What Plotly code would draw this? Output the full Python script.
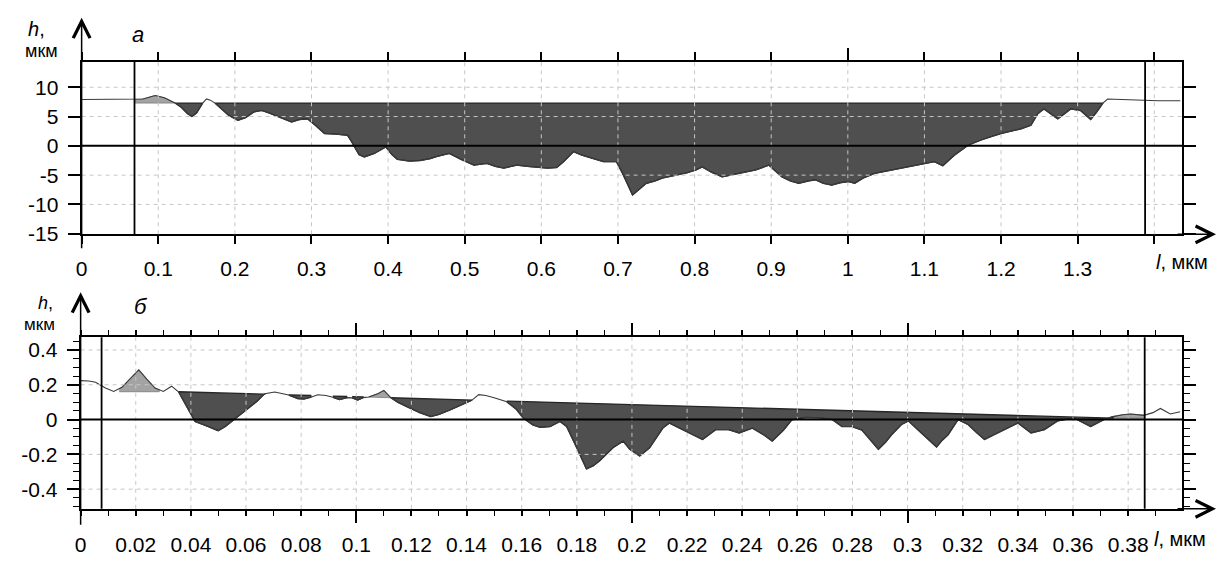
import numpy as np
import plotly.graph_objects as go

W, H = 1218, 562
FONT = "Liberation Sans, Arial, sans-serif"

# ---------------- chart "а" data (l, мкм ; h, мкм) ----------------
top_x = [0.000, 0.069, 0.080, 0.096, 0.108, 0.122, 0.130, 0.138, 0.144, 0.150, 0.158,
         0.163, 0.168, 0.174, 0.182, 0.192, 0.204, 0.214, 0.225, 0.235, 0.245, 0.258,
         0.274, 0.285, 0.295, 0.305, 0.317, 0.332, 0.347, 0.352, 0.356, 0.362, 0.369,
         0.382, 0.397, 0.405, 0.412, 0.428, 0.442, 0.455, 0.464, 0.480, 0.495, 0.512,
         0.529, 0.540, 0.551, 0.568, 0.582, 0.594, 0.608, 0.620, 0.629, 0.642, 0.653,
         0.668, 0.681, 0.698, 0.706, 0.719, 0.728, 0.737, 0.748, 0.758, 0.776, 0.790,
         0.802, 0.810, 0.822, 0.836, 0.858, 0.880, 0.897, 0.905, 0.914, 0.925, 0.936,
         0.948, 0.958, 0.968, 0.979, 0.990, 1.001, 1.009, 1.020, 1.035, 1.050, 1.065,
         1.079, 1.095, 1.113, 1.124, 1.139, 1.157, 1.174, 1.188, 1.200, 1.213, 1.226,
         1.239, 1.248, 1.256, 1.265, 1.274, 1.283, 1.291, 1.304, 1.317, 1.325, 1.333,
         1.339, 1.350, 1.386, 1.395, 1.405, 1.434]
top_y = [7.9, 7.9, 8.0, 8.6, 8.2, 7.3, 6.6, 5.5, 5.0, 5.6, 7.3,
         8.0, 7.8, 7.3, 6.3, 5.2, 4.35, 4.8, 5.8, 6.05, 5.6, 4.9,
         4.07, 4.5, 4.6, 3.5, 2.1, 2.0, 1.8, 0.8, -0.2, -1.5, -1.9,
         -1.3, -0.2, -1.5, -2.3, -2.6, -2.5, -2.2, -1.8, -1.3, -2.3, -3.3,
         -3.0, -3.5, -3.8, -3.3, -3.5, -3.6, -3.8, -3.7, -2.7, -1.0, -1.6,
         -2.2, -2.7, -2.7, -4.7, -8.4, -7.4, -6.4, -6.0, -5.5, -5.0, -4.6,
         -4.1, -3.6, -4.5, -5.3, -4.7, -4.1, -3.3, -4.3, -5.3, -6.0, -6.4,
         -6.0, -5.8, -6.4, -6.7, -6.3, -6.1, -6.4, -5.5, -4.7, -4.3, -4.0,
         -3.6, -3.2, -2.7, -3.4, -1.6, 0.1, 1.0, 1.6, 2.1, 2.5, 2.9,
         3.5, 5.5, 6.3, 5.4, 4.6, 5.5, 6.3, 6.0, 4.5, 5.8, 7.3,
         8.0, 7.95, 7.9, 7.75, 7.7, 7.7]
top_ref_x = [0.122, 1.333]
top_ref_y = [7.3, 7.3]
top_dark_segments = [(0.122, 0.158), (0.174, 1.333)]
top_light_segments = [(0.069, 0.122)]
top_cursor_x = [0.069, 1.388]
top_xticks = [0, 0.1, 0.2, 0.3, 0.4, 0.5, 0.6, 0.7, 0.8, 0.9, 1.0, 1.1, 1.2, 1.3, 1.4]
top_xticklabels = ["0", "0.1", "0.2", "0.3", "0.4", "0.5", "0.6", "0.7", "0.8", "0.9",
                   "1", "1.1", "1.2", "1.3", ""]
top_xlong_top = [1.0]
top_yticks = [-15, -10, -5, 0, 5, 10]
top_yticklabels = ["-15", "-10", "-5", "0", "5", "10"]
top_grid_x = [0.1, 0.2, 0.3, 0.4, 0.5, 0.6, 0.7, 0.8, 0.9, 1.0, 1.1, 1.2, 1.3, 1.4]
top_grid_y = [-10, -5, 5, 10]
top_xrange = [0, 1.4364]
top_yrange = [-15.1, 14.35]

# ---------------- chart "б" data ----------------
bot_x = [0.0000, 0.0030, 0.0054, 0.0075, 0.0090, 0.0120, 0.0150, 0.0180, 0.0211, 0.0240,
         0.0270, 0.0300, 0.0330, 0.0355, 0.0397, 0.0415, 0.0463, 0.0499, 0.0525, 0.0548,
         0.0580, 0.0608, 0.0640, 0.0668, 0.0704, 0.0755, 0.0788, 0.0810, 0.0835, 0.0860,
         0.0890, 0.0915, 0.0939, 0.0965, 0.0985, 0.1005, 0.1025, 0.1045, 0.1080, 0.1100,
         0.1125, 0.1150, 0.1185, 0.1230, 0.1270, 0.1300, 0.1340, 0.1380, 0.1420, 0.1444,
         0.1470, 0.1500, 0.1546, 0.1580, 0.1606, 0.1640, 0.1667, 0.1703, 0.1739, 0.1763,
         0.1800, 0.1835, 0.1860, 0.1883, 0.1931, 0.1968, 0.1992, 0.2028, 0.2064, 0.2112,
         0.2136, 0.2170, 0.2208, 0.2256, 0.2304, 0.2350, 0.2389, 0.2437, 0.2480, 0.2509,
         0.2550, 0.2580, 0.2630, 0.2680, 0.2726, 0.2762, 0.2798, 0.2834, 0.2865, 0.2894,
         0.2920, 0.2942, 0.2978, 0.3003, 0.3050, 0.3080, 0.3105, 0.3125, 0.3147, 0.3183,
         0.3219, 0.3250, 0.3279, 0.3310, 0.3339, 0.3400, 0.3448, 0.3496, 0.3544, 0.3580,
         0.3604, 0.3628, 0.3664, 0.3712, 0.3745, 0.3780, 0.3809, 0.3857, 0.3890, 0.3917,
         0.3953, 0.3989]
bot_y = [0.224, 0.222, 0.215, 0.195, 0.181, 0.162, 0.186, 0.235, 0.286, 0.232,
         0.181, 0.162, 0.192, 0.160, 0.045, -0.011, -0.040, -0.064, -0.040, -0.011,
         0.025, 0.064, 0.105, 0.149, 0.158, 0.141, 0.120, 0.118, 0.128, 0.143,
         0.138, 0.128, 0.115, 0.126, 0.125, 0.112, 0.126, 0.130, 0.150, 0.168,
         0.126, 0.100, 0.073, 0.040, 0.017, 0.030, 0.055, 0.085, 0.112, 0.143,
         0.138, 0.125, 0.102, 0.060, 0.008, -0.030, -0.045, -0.040, -0.011, -0.040,
         -0.162, -0.284, -0.265, -0.237, -0.162, -0.124, -0.171, -0.209, -0.162, -0.049,
         -0.020, -0.045, -0.077, -0.115, -0.058, -0.058, -0.077, -0.049, -0.090, -0.124,
         -0.060, -0.002, 0.012, 0.010, 0.000, -0.040, -0.040, -0.060, -0.115, -0.171,
         -0.130, -0.087, -0.028, -0.008, -0.077, -0.120, -0.158, -0.120, -0.087, 0.000,
         -0.028, -0.075, -0.115, -0.090, -0.068, -0.020, -0.077, -0.058, -0.008, 0.005,
         0.010, -0.011, -0.040, 0.000, 0.017, 0.028, 0.032, 0.024, 0.040, 0.064,
         0.032, 0.045]
bot_ref_x = [0.0355, 0.3745]
bot_ref_y = [0.160, 0.008]
bot_dark_segments = [(0.0355, 0.0668), (0.0755, 0.0835), (0.0915, 0.0965),
                     (0.0985, 0.1025), (0.1125, 0.1420), (0.1546, 0.3745)]
bot_light_segments = [(0.0140, 0.0285), (0.1045, 0.1125), (0.3745, 0.3860)]
bot_cursor_x = [0.0076, 0.386]
bot_xticks = [0, 0.02, 0.04, 0.06, 0.08, 0.1, 0.12, 0.14, 0.16, 0.18, 0.2, 0.22, 0.24,
              0.26, 0.28, 0.3, 0.32, 0.34, 0.36, 0.38]
bot_xticklabels = ["0", "0.02", "0.04", "0.06", "0.08", "0.1", "0.12", "0.14", "0.16",
                   "0.18", "0.2", "0.22", "0.24", "0.26", "0.28", "0.3", "0.32", "0.34",
                   "0.36", "0.38"]
bot_xminor = [round(0.01 * i, 2) for i in range(40)]
bot_xmajor_long = [0.1, 0.2, 0.3]
bot_yticks = [-0.4, -0.2, 0, 0.2, 0.4]
bot_yticklabels = ["-0.4", "-0.2", "0", "0.2", "0.4"]
bot_yminor = [round(-0.5 + 0.05 * i, 2) for i in range(20)]
bot_grid_x = [0.02, 0.04, 0.06, 0.08, 0.1, 0.12, 0.14, 0.16, 0.18, 0.2, 0.22, 0.24,
              0.26, 0.28, 0.3, 0.32, 0.34, 0.36, 0.38]
bot_grid_y = [-0.4, -0.2, 0.2, 0.4]
bot_xrange = [0, 0.3996]
bot_yrange = [-0.513, 0.473]

# ---------------- layout geometry (pixels) ----------------
TOP_BOX = (76, 1182, 63, 239)   # left, right, top, bottom
BOT_BOX = (75, 1182, 344, 519)

DARK = "#4f4f4f"
EDGE = "#262626"
LIGHT = "#a3a3a3"
LINE = "#3a3a3a"
GRID = "#c6c6c6"


def px_x(p):
    return p / W


def px_y(p):
    return 1 - p / H


def seg_polygon(xs, ys, rx, ry, a, b):
    xs = np.asarray(xs)
    ys = np.asarray(ys)
    m = (xs > a) & (xs < b)
    px = [a] + list(xs[m]) + [b]
    ya = float(np.interp(a, xs, ys))
    yb = float(np.interp(b, xs, ys))
    py = [ya] + list(ys[m]) + [yb]
    # close along the reference line
    px += [b, a]
    py += [float(np.interp(b, rx, ry)), float(np.interp(a, rx, ry))]
    return px, py


fig = go.Figure()


def add_chart(xs, ys, rx, ry, dark, light, xa, ya, xa_line):
    for a, b in light:
        sx, sy = seg_polygon(xs, ys, rx, ry, a, b)
        fig.add_trace(go.Scatter(x=sx, y=sy, mode="lines", fill="toself", fillcolor=LIGHT,
                                 line=dict(color="#7a7a7a", width=0.8), xaxis=xa, yaxis=ya,
                                 hoverinfo="skip"))
    for a, b in dark:
        sx, sy = seg_polygon(xs, ys, rx, ry, a, b)
        fig.add_trace(go.Scatter(x=sx, y=sy, mode="lines", fill="toself", fillcolor=DARK,
                                 line=dict(color=EDGE, width=1.3), xaxis=xa, yaxis=ya,
                                 hoverinfo="skip"))
    # profile line, carried by the overlay axis (same range) that draws the long ticks
    fig.add_trace(go.Scatter(x=xs, y=ys, mode="lines", line=dict(color=LINE, width=1.1),
                             xaxis=xa_line, yaxis=ya, hoverinfo="skip"))


add_chart(top_x, top_y, top_ref_x, top_ref_y, top_dark_segments, top_light_segments,
          "x", "y", "x4")
add_chart(bot_x, bot_y, bot_ref_x, bot_ref_y, bot_dark_segments, bot_light_segments,
          "x2", "y2", "x3")

tickfont = dict(family=FONT, size=21, color="black")
axis_common = dict(showline=True, linecolor="black", linewidth=2, mirror="ticks",
                   ticks="outside", tickcolor="black", tickwidth=1.5, showgrid=False,
                   zeroline=False, layer="above traces", tickfont=tickfont,
                   tickmode="array")

shapes = []


def grid_shapes(gx, gy, xr, yr):
    for v in gx:
        shapes.append(dict(type="line", xref=xr, yref=yr + " domain", x0=v, x1=v, y0=0, y1=1,
                           line=dict(color=GRID, width=1, dash="4px,4px"), layer="above"))
    for v in gy:
        shapes.append(dict(type="line", xref=xr + " domain", yref=yr, x0=0, x1=1, y0=v, y1=v,
                           line=dict(color=GRID, width=1, dash="4px,4px"), layer="above"))
    shapes.append(dict(type="line", xref=xr + " domain", yref=yr, x0=0, x1=1, y0=0, y1=0,
                       line=dict(color="black", width=2), layer="above"))


def cursor_shapes(cx, xr, yr):
    for v in cx:
        shapes.append(dict(type="line", xref=xr, yref=yr + " domain", x0=v, x1=v, y0=0, y1=1,
                           line=dict(color="black", width=1.8), layer="above"))


grid_shapes(top_grid_x, top_grid_y, "x", "y")
grid_shapes(bot_grid_x, bot_grid_y, "x2", "y2")
cursor_shapes(top_cursor_x, "x", "y")
cursor_shapes(bot_cursor_x, "x2", "y2")

annotations = []


def text(x, y, s, size=20, anchor="center"):
    annotations.append(dict(x=px_x(x), y=px_y(y), xref="paper", yref="paper", text=s,
                            showarrow=False, xanchor=anchor, yanchor="middle",
                            font=dict(family=FONT, size=size, color="black")))


def arrow(x_tip, y_tip, ax, ay):
    annotations.append(dict(x=px_x(x_tip), y=px_y(y_tip), xref="paper", yref="paper", text="",
                            showarrow=True, arrowhead=5, arrowsize=2.2, arrowwidth=1.5,
                            arrowcolor="black", ax=ax, ay=ay, standoff=0, startstandoff=0))


# chart а labels
text(31, 30, "<i>h</i>,", 20)
text(36, 52, "мкм", 18)
text(133, 35, "<i>а</i>", 22)
text(1154, 267, "<i>l</i>, мкм", 20, "left")
arrow(TOP_BOX[0], 18, 0, 232)
arrow(1216, TOP_BOX[3], -40, 0)
# chart б labels
text(40, 309, "<i>h</i>,", 18)
text(34, 331, "мкм", 17)
text(136, 313, "<i>б</i>", 22)
text(1152, 550, "<i>l</i>, мкм", 20, "left")
arrow(BOT_BOX[0], 298, 0, 234)
arrow(1216, BOT_BOX[3], -40, 0)

fig.update_layout(
    width=W, height=H, margin=dict(l=0, r=0, t=0, b=0),
    paper_bgcolor="white", plot_bgcolor="rgba(0,0,0,0)", showlegend=False,
    xaxis=dict(axis_common, domain=[px_x(TOP_BOX[0]), px_x(TOP_BOX[1])], range=top_xrange,
               anchor="y", tickvals=top_xticks, ticktext=top_xticklabels, ticklen=8,
               ticklabelstandoff=6),
    xaxis4=dict(overlaying="x", anchor="y", side="top", range=top_xrange, tickmode="array",
                tickvals=top_xlong_top, ticks="outside", ticklen=13, tickwidth=1.8,
                tickcolor="black", showticklabels=False, showline=False, showgrid=False,
                zeroline=False, layer="above traces"),
    yaxis=dict(axis_common, domain=[px_y(TOP_BOX[3]), px_y(TOP_BOX[2])], range=top_yrange,
               anchor="x", tickvals=top_yticks, ticktext=top_yticklabels, ticklen=12,
               ticklabelstandoff=5),
    xaxis2=dict(axis_common, domain=[px_x(BOT_BOX[0]), px_x(BOT_BOX[1])], range=bot_xrange,
                anchor="y2", tickvals=bot_xticks, ticktext=bot_xticklabels, ticklen=5,
                ticklabelstandoff=11,
                minor=dict(tickmode="array", tickvals=bot_xminor, ticks="outside", ticklen=5,
                           tickwidth=1.2, tickcolor="black", showgrid=False)),
    xaxis3=dict(overlaying="x2", anchor="y2", range=bot_xrange, tickmode="array",
                tickvals=bot_xmajor_long, ticks="outside", ticklen=12, tickwidth=1.8,
                tickcolor="black", showticklabels=False, showline=True, linecolor="black",
                linewidth=2, mirror="ticks", showgrid=False, zeroline=False,
                layer="above traces"),
    yaxis2=dict(axis_common, domain=[px_y(BOT_BOX[3]), px_y(BOT_BOX[2])], range=bot_yrange,
                anchor="x2", tickvals=bot_yticks, ticktext=bot_yticklabels, ticklen=12,
                ticklabelstandoff=5,
                minor=dict(tickmode="array", tickvals=bot_yminor, ticks="outside", ticklen=6,
                           tickwidth=1.2, tickcolor="black", showgrid=False)),
    shapes=shapes, annotations=annotations,
)

fig.write_html("out.html")
